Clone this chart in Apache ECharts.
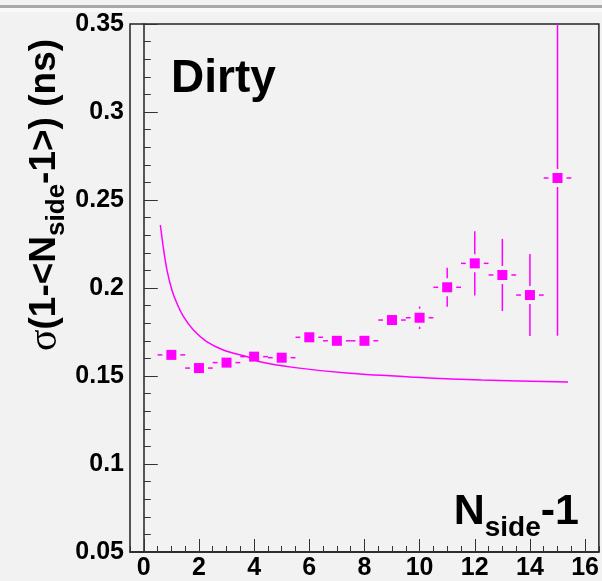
<!DOCTYPE html>
<html>
<head>
<meta charset="utf-8">
<script src="https://cdn.jsdelivr.net/npm/echarts@6/dist/echarts.min.js"></script>
<style>
  html, body { margin: 0; padding: 0; background: #f2f2f2; }
  #chart { width: 602px; height: 581px; }
</style>
</head>
<body>
<div id="chart"></div>
<script>
// measured points (N_side - 1, sigma in ns, error)
const nSide = [1, 2, 3, 4, 5, 6, 7, 8, 9, 10, 11, 12, 13, 14, 15];
const sigma = [0.162, 0.1545, 0.1576, 0.161, 0.1604, 0.172, 0.170, 0.170, 0.1818, 0.1831, 0.2004, 0.214, 0.2074, 0.196, 0.2625];
const sigmaErr = [0.003, 0.003, 0.003, 0.003, 0.003, 0.003, 0.003, 0.003, 0.004, 0.0064, 0.0111, 0.0182, 0.0205, 0.0233, 0.0896];

// fitted curve
const curveX = [0.60, 0.72, 0.84, 1.02, 1.20, 1.44, 1.80, 2.28, 2.88, 3.85, 4.21, 5.41, 7.45, 9.85, 12.25, 15.38];
const curveY = [0.2358, 0.2216, 0.2102, 0.1989, 0.1913, 0.1837, 0.1761, 0.1695, 0.1648, 0.1604, 0.1581, 0.1549, 0.1515, 0.1493, 0.1477, 0.1466];

const xMajor = [0, 2, 4, 6, 8, 10, 12, 14, 16];
const MAG = '#ff00ff';
const FONT = '"Liberation Sans", Arial, Helvetica, sans-serif';

var myChart = echarts.init(document.getElementById('chart'));

function errorBars(params, api) {
  const x = api.value(0), y = api.value(1), e = api.value(2);
  const c = api.coord([x, y]);
  const cs = params.coordSys;
  let top = api.coord([x, y + e])[1];
  let bot = api.coord([x, y - e])[1];
  top = Math.max(top, cs.y);
  bot = Math.min(bot, cs.y + cs.height);
  const left = api.coord([x - 0.5, y])[0];
  const right = api.coord([x + 0.5, y])[0];
  const gap = 9;
  const st = { stroke: MAG, lineWidth: 1.5 };
  const children = [
    { type: 'line', shape: { x1: left, y1: c[1], x2: c[0] - gap, y2: c[1] }, style: st },
    { type: 'line', shape: { x1: c[0] + gap, y1: c[1], x2: right, y2: c[1] }, style: st }
  ];
  if (c[1] - top > gap) {
    children.push({ type: 'line', shape: { x1: c[0], y1: top, x2: c[0], y2: c[1] - gap }, style: st });
  }
  if (bot - c[1] > gap) {
    children.push({ type: 'line', shape: { x1: c[0], y1: c[1] + gap, x2: c[0], y2: bot }, style: st });
  }
  return { type: 'group', children };
}

var option = {
  backgroundColor: '#f2f2f2',
  animation: false,
  textStyle: { fontFamily: FONT },
  grid: {
    left: 130, right: 2, top: 24, bottom: 29,
    show: true, borderColor: '#222', borderWidth: 1.5, backgroundColor: 'transparent'
  },
  xAxis: [
    {
      type: 'value', min: -0.5, max: 16.5,
      axisLine: { lineStyle: { color: '#222', width: 1.5 } },
      axisTick: { inside: true, length: 13, customValues: xMajor, lineStyle: { color: '#333' } },
      axisLabel: {
        customValues: xMajor, color: '#000', fontSize: 25, fontWeight: 'bold',
        fontFamily: FONT, margin: 4
      },
      splitLine: { show: false }
    },
    {
      type: 'value', min: -0.5, max: 16.5, interval: 0.5, position: 'bottom',
      axisLine: { show: false },
      axisTick: { inside: true, length: 6, lineStyle: { color: '#333' } },
      axisLabel: { show: false },
      splitLine: { show: false }
    }
  ],
  yAxis: {
    type: 'value', min: 0.05, max: 0.35, interval: 0.05,
    axisLine: { lineStyle: { color: '#222', width: 1.5 } },
    axisTick: { inside: true, length: 14, lineStyle: { color: '#333' } },
    minorTick: { show: true, splitNumber: 5, length: 7, lineStyle: { color: '#333' } },
    axisLabel: {
      color: '#000', fontSize: 25, fontWeight: 'bold', fontFamily: FONT, margin: 6,
      formatter: v => String(+v.toFixed(2))
    },
    splitLine: { show: false }
  },
  graphic: [
    { type: 'rect', shape: { x: 0, y: 5, width: 602, height: 3 }, style: { fill: '#a9a9a9' } },
    { type: 'rect', shape: { x: 0, y: 8, width: 602, height: 4 }, style: { fill: '#f9f9f9' } },
    {
      type: 'text', x: 171, y: 79,
      style: { text: 'Dirty', font: 'bold 46px ' + FONT, fill: '#000', verticalAlign: 'middle' }
    },
    {
      type: 'text', x: 579, y: 512,
      style: {
        text: '{m|N}{s|side}{m|-1}', align: 'right', verticalAlign: 'middle',
        rich: {
          m: { fontSize: 43, fontWeight: 'bold', fontFamily: FONT, lineHeight: 60, verticalAlign: 'middle', fill: '#000' },
          s: { fontSize: 28, fontWeight: 'bold', fontFamily: FONT, lineHeight: 26, verticalAlign: 'bottom', fill: '#000' }
        }
      }
    },
    {
      type: 'text', x: 45, y: 195, rotation: Math.PI / 2,
      style: {
        text: '{g|σ}{m|(1-<N}{s|side}{m|-1>) (ns)}', align: 'center', verticalAlign: 'middle',
        rich: {
          g: { fontSize: 40, fontFamily: '"Liberation Serif", "DejaVu Serif", serif', lineHeight: 50, verticalAlign: 'middle', fill: '#000' },
          m: { fontSize: 37, fontWeight: 'bold', fontFamily: FONT, lineHeight: 50, verticalAlign: 'middle', fill: '#000' },
          s: { fontSize: 26, fontWeight: 'bold', fontFamily: FONT, lineHeight: 22, verticalAlign: 'bottom', fill: '#000' }
        }
      }
    }
  ],
  series: [
    {
      type: 'line', data: curveX.map((x, i) => [x, curveY[i]]),
      smooth: 0.3, symbol: 'none', lineStyle: { color: MAG, width: 1.5 }, z: 2
    },
    {
      type: 'custom', renderItem: errorBars,
      data: nSide.map((x, i) => [x, sigma[i], sigmaErr[i]]), z: 3
    },
    {
      type: 'scatter', data: nSide.map((x, i) => [x, sigma[i]]),
      symbol: 'rect', symbolSize: 10, itemStyle: { color: MAG, opacity: 1 }, z: 4
    }
  ]
};

option && myChart.setOption(option);
</script>
</body>
</html>
